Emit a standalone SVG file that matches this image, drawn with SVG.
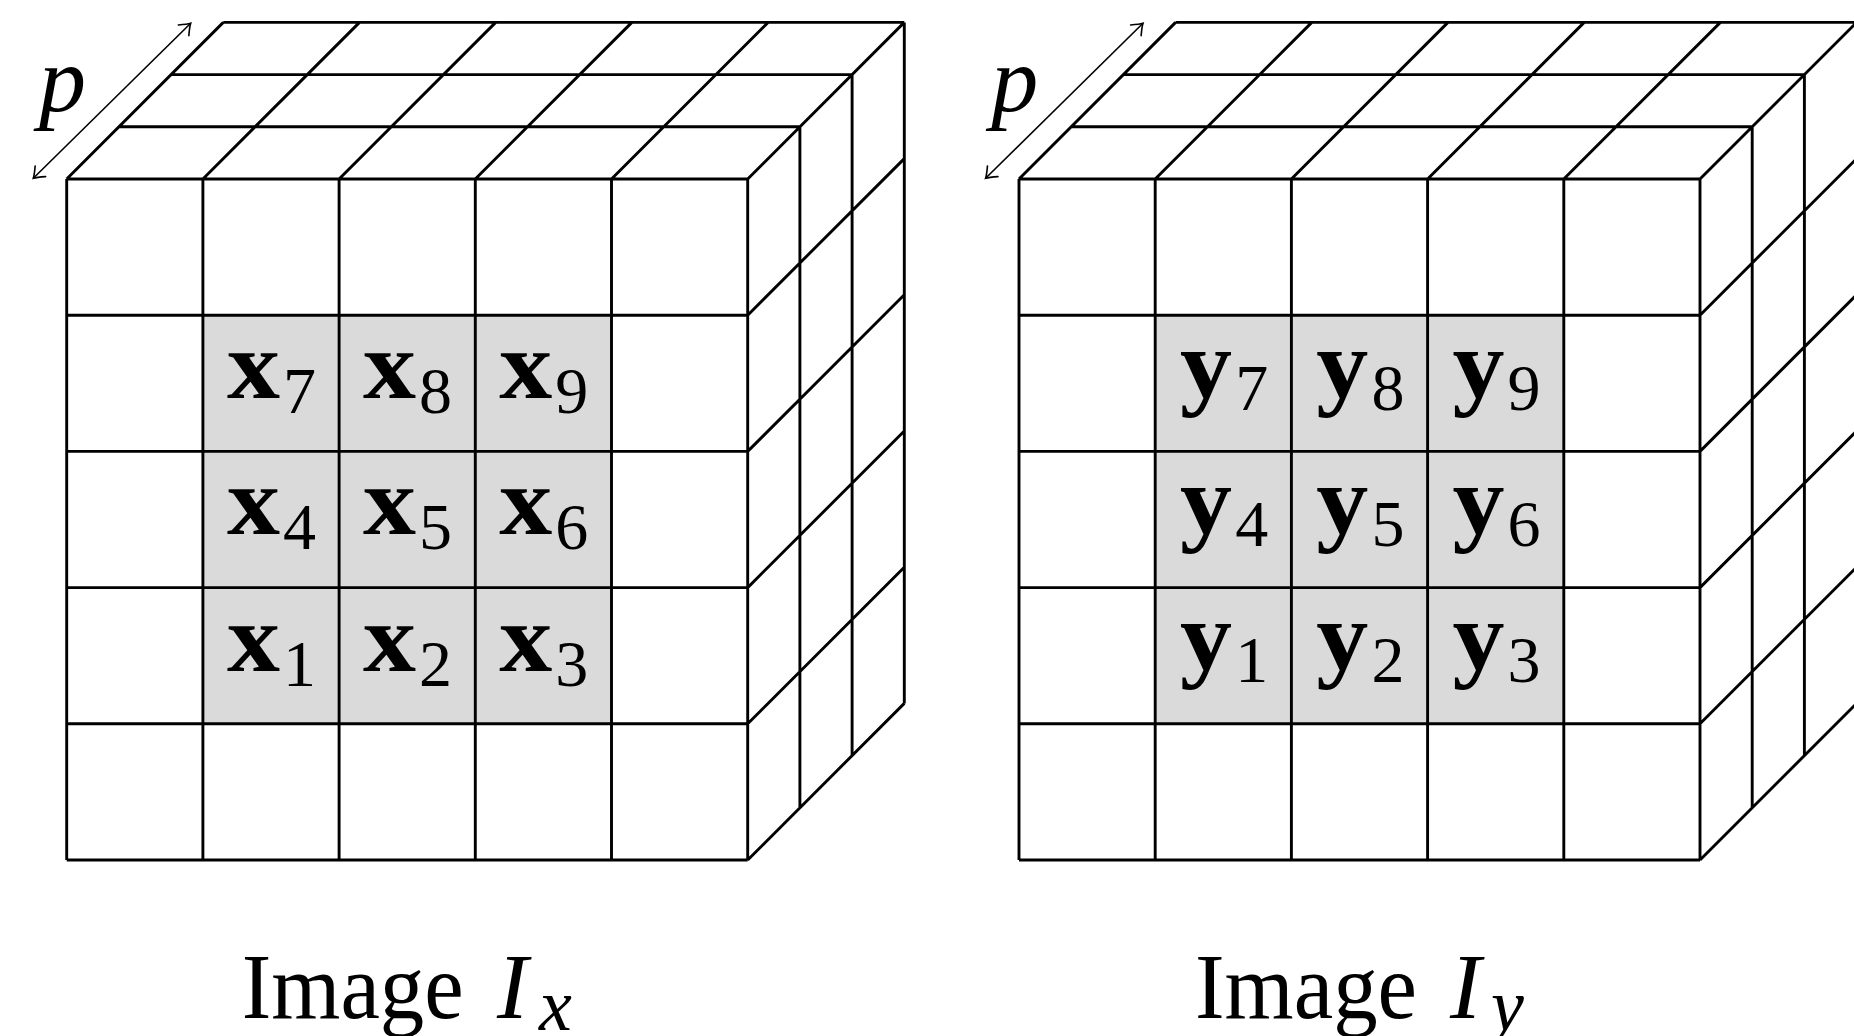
<svg xmlns="http://www.w3.org/2000/svg" width="1854" height="1036" viewBox="0 0 1854 1036">
<style>
.grid{fill:none;stroke:#000;stroke-width:2.9;stroke-linejoin:miter}
.shade{fill:#dadada;stroke:none}
.bx{font-family:"Liberation Serif",serif;font-weight:bold;font-size:98px;fill:#000}
.sub{font-family:"Liberation Serif",serif;font-size:66px;fill:#000}
.cap{font-family:"Liberation Serif",serif;font-size:93px;fill:#000}
.it{font-family:"Liberation Serif",serif;font-style:italic;fill:#000}
.dim{fill:none;stroke:#000;stroke-width:1.6}
</style>
<defs>
<marker id="tip" viewBox="-14 -10 16 20" refX="0" refY="0" markerWidth="16" markerHeight="20" markerUnits="userSpaceOnUse" orient="auto-start-reverse" overflow="visible">
<path d="M-10,-7.5 Q-3,-1.5 0,0 Q-3,1.5 -10,7.5" fill="none" stroke="#000" stroke-width="1.6" stroke-linecap="round"/>
</marker>
<g id="cubeShape">
<rect class="shade" x="136.2" y="136.2" width="408.6" height="408.6"/>
<path class="grid" d="M0,0H681M0,136.2H681M0,272.4H681M0,408.6H681M0,544.8H681M0,681H681
M0,0V681M136.2,0V681M272.4,0V681M408.6,0V681M544.8,0V681M681,0V681
M52.2,-52.2H733.2M104.4,-104.4H785.4M156.6,-156.6H837.6
M0,0L156.6,-156.6M136.2,0L292.8,-156.6M272.4,0L429,-156.6M408.6,0L565.2,-156.6M544.8,0L701.4,-156.6M681,0L837.6,-156.6
M733.2,-52.2V628.8M785.4,-104.4V576.6M837.6,-156.6V524.4
M681,136.2L837.6,-20.4M681,272.4L837.6,115.8M681,408.6L837.6,252M681,544.8L837.6,388.2M681,681L837.6,524.4"/>
</g>
</defs>

<g id="cube-x" transform="translate(66.7,179)">
<use href="#cubeShape"/>
<g id="labels-x">
<text class="bx" x="160.2" y="219.2" textLength="53" lengthAdjust="spacingAndGlyphs">x</text><text class="sub" x="216.2" y="234.2">7</text>
<text class="bx" x="296.4" y="219.2" textLength="53" lengthAdjust="spacingAndGlyphs">x</text><text class="sub" x="352.4" y="234.2">8</text>
<text class="bx" x="432.6" y="219.2" textLength="53" lengthAdjust="spacingAndGlyphs">x</text><text class="sub" x="488.6" y="234.2">9</text>
<text class="bx" x="160.2" y="355.4" textLength="53" lengthAdjust="spacingAndGlyphs">x</text><text class="sub" x="216.2" y="370.4">4</text>
<text class="bx" x="296.4" y="355.4" textLength="53" lengthAdjust="spacingAndGlyphs">x</text><text class="sub" x="352.4" y="370.4">5</text>
<text class="bx" x="432.6" y="355.4" textLength="53" lengthAdjust="spacingAndGlyphs">x</text><text class="sub" x="488.6" y="370.4">6</text>
<text class="bx" x="160.2" y="491.6" textLength="53" lengthAdjust="spacingAndGlyphs">x</text><text class="sub" x="216.2" y="506.6">1</text>
<text class="bx" x="296.4" y="491.6" textLength="53" lengthAdjust="spacingAndGlyphs">x</text><text class="sub" x="352.4" y="506.6">2</text>
<text class="bx" x="432.6" y="491.6" textLength="53" lengthAdjust="spacingAndGlyphs">x</text><text class="sub" x="488.6" y="506.6">3</text>
</g>
</g>

<g id="cube-y" transform="translate(1019,179)">
<use href="#cubeShape"/>
<g id="labels-y">
<text class="bx" x="161" y="217.5" textLength="52" lengthAdjust="spacingAndGlyphs">y</text><text class="sub" x="216.2" y="231">7</text>
<text class="bx" x="297.2" y="217.5" textLength="52" lengthAdjust="spacingAndGlyphs">y</text><text class="sub" x="352.4" y="231">8</text>
<text class="bx" x="433.4" y="217.5" textLength="52" lengthAdjust="spacingAndGlyphs">y</text><text class="sub" x="488.6" y="231">9</text>
<text class="bx" x="161" y="353.7" textLength="52" lengthAdjust="spacingAndGlyphs">y</text><text class="sub" x="216.2" y="367.2">4</text>
<text class="bx" x="297.2" y="353.7" textLength="52" lengthAdjust="spacingAndGlyphs">y</text><text class="sub" x="352.4" y="367.2">5</text>
<text class="bx" x="433.4" y="353.7" textLength="52" lengthAdjust="spacingAndGlyphs">y</text><text class="sub" x="488.6" y="367.2">6</text>
<text class="bx" x="161" y="489.9" textLength="52" lengthAdjust="spacingAndGlyphs">y</text><text class="sub" x="216.2" y="503.4">1</text>
<text class="bx" x="297.2" y="489.9" textLength="52" lengthAdjust="spacingAndGlyphs">y</text><text class="sub" x="352.4" y="503.4">2</text>
<text class="bx" x="433.4" y="489.9" textLength="52" lengthAdjust="spacingAndGlyphs">y</text><text class="sub" x="488.6" y="503.4">3</text>
</g>
</g>

<g id="connectors">
<path class="dim" d="M33.3,178.3L190.7,23.3" marker-start="url(#tip)" marker-end="url(#tip)"/>
<path class="dim" d="M985.6,178.3L1143,23.3" marker-start="url(#tip)" marker-end="url(#tip)"/>
</g>

<g id="label-p-x"><text class="it" x="39" y="111" font-size="94">p</text></g>
<g id="label-p-y"><text class="it" x="991.3" y="111" font-size="94">p</text></g>

<g id="caption-x">
<text class="cap" x="241.7" y="1018" textLength="222" lengthAdjust="spacingAndGlyphs">Image</text>
<text class="it" x="497" y="1018" font-size="93">I</text>
<text class="it" x="539" y="1030" font-size="74">x</text>
</g>
<g id="caption-y">
<text class="cap" x="1195" y="1018" textLength="222" lengthAdjust="spacingAndGlyphs">Image</text>
<text class="it" x="1450" y="1018" font-size="93">I</text>
<text class="it" x="1491" y="1030" font-size="74">y</text>
</g>
</svg>
